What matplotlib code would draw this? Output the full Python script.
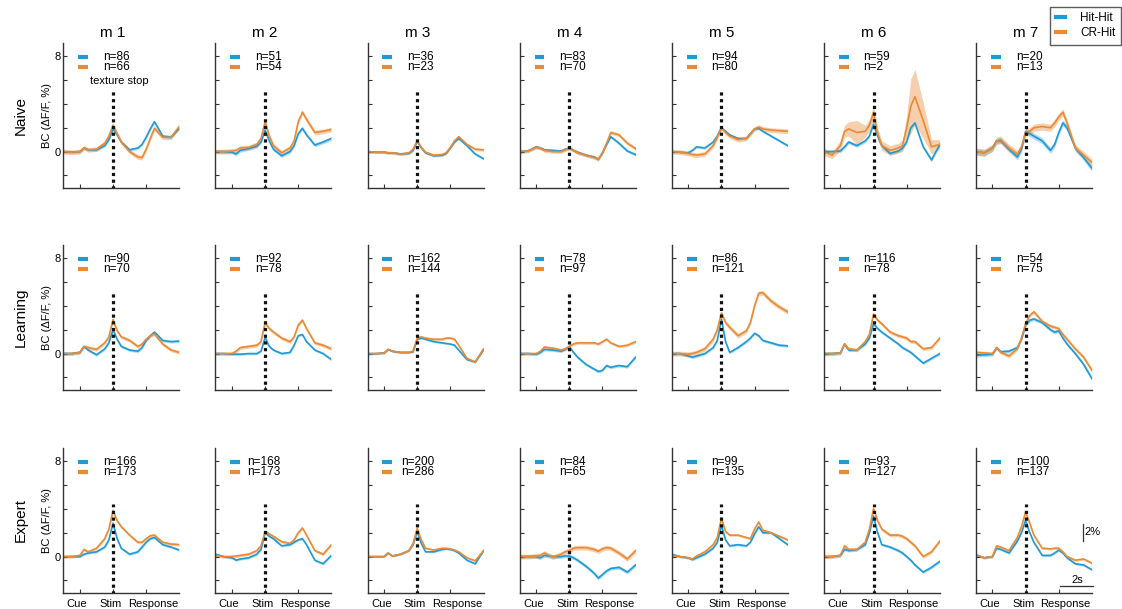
import numpy as np
import matplotlib
matplotlib.use('Agg')
import matplotlib.pyplot as plt
from matplotlib.lines import Line2D

plt.rcParams['font.family'] = ['Liberation Sans', 'DejaVu Sans']

# 时间轴（秒），Cue=1, Stim=3, Response=5
t_sec = [0, 0.5, 1, 1.25, 1.5, 2, 2.5, 2.75, 3, 3.25, 3.5, 4, 4.5, 4.75, 5, 5.25, 5.5, 6, 6.5, 7]
mice = ['m 1', 'm 2', 'm 3', 'm 4', 'm 5', 'm 6', 'm 7']
stages = ['Naive', 'Learning', 'Expert']
tick_pos = [1, 3, 5]
tick_names = ['Cue', 'Stim', 'Response']

# Naive
naive_hit = [
    [0, -0.05, 0.0, 0.3, 0.15, 0.15, 0.5, 1.0, 1.9, 1.4, 0.8, 0.15, 0.3, 0.6, 1.2, 1.9, 2.5, 1.3, 1.2, 1.95],
    [0, 0, -0.05, -0.2, 0.1, 0.25, 0.45, 0.8, 1.8, 0.9, 0.2, -0.35, 0.0, 0.5, 1.5, 1.95, 1.4, 0.55, 0.8, 1.1],
    [0, -0.05, -0.05, -0.1, -0.1, -0.2, -0.15, 0.1, 0.85, 0.3, -0.1, -0.35, -0.3, -0.15, 0.3, 0.8, 1.1, 0.5, -0.2, -0.6],
    [0, 0.05, 0.4, 0.3, 0.15, 0.1, 0.05, 0.2, 0.3, 0.1, -0.05, -0.3, -0.45, -0.65, -0.1, 0.6, 1.25, 0.7, 0.05, -0.25],
    [0, -0.05, -0.1, 0.1, 0.4, 0.3, 0.8, 1.3, 2.0, 1.7, 1.4, 1.1, 1.1, 1.5, 1.9, 1.95, 1.7, 1.3, 0.9, 0.5],
    [0, 0.0, 0.05, 0.4, 0.8, 0.5, 0.9, 1.3, 2.3, 1.3, 0.5, -0.15, 0.05, 0.3, 0.8, 2.0, 2.4, 0.4, -0.7, 0.6],
    [0, -0.1, 0.3, 0.9, 0.9, 0.2, -0.45, 0.2, 1.7, 1.5, 1.3, 0.9, 0.1, 0.6, 1.6, 2.4, 2.0, 0.3, -0.5, -1.4],
]
naive_cr = [
    [0, -0.05, 0.0, 0.3, 0.15, 0.2, 0.7, 1.3, 2.2, 1.5, 0.8, 0.0, -0.45, -0.5, 0.2, 1.1, 1.95, 1.2, 1.2, 2.1],
    [0, 0, 0.05, 0.1, 0.3, 0.35, 0.6, 1.1, 2.5, 1.3, 0.5, -0.1, 0.3, 0.9, 2.5, 3.3, 2.7, 1.6, 1.7, 1.85],
    [0, -0.05, -0.05, -0.1, -0.1, -0.2, -0.1, 0.2, 0.9, 0.35, -0.05, -0.3, -0.25, -0.1, 0.35, 0.9, 1.25, 0.6, 0.2, 0.15],
    [0, 0.05, 0.35, 0.3, 0.1, 0.0, 0.0, 0.15, 0.3, 0.1, -0.1, -0.3, -0.5, -0.65, -0.1, 0.7, 1.6, 1.4, 0.7, 0.25],
    [0, -0.05, -0.15, -0.25, -0.3, -0.2, 0.5, 1.2, 2.0, 1.6, 1.3, 1.0, 1.1, 1.5, 1.9, 2.05, 1.9, 1.8, 1.75, 1.7],
    [0, -0.3, 0.5, 1.7, 1.9, 1.6, 1.7, 2.2, 3.25, 1.5, 0.5, 0.1, 0.3, 0.5, 2.0, 3.8, 4.6, 2.6, 0.4, 0.6],
    [0, -0.1, 0.3, 0.9, 1.0, 0.3, -0.2, 0.4, 1.6, 1.7, 2.0, 2.1, 2.0, 2.4, 2.9, 3.3, 2.4, 0.3, -0.3, -0.9],
]
naive_hit_sem = [0.12, 0.15, 0.1, 0.12, 0.1, 0.15, 0.25]
naive_cr_sem = [0.2, 0.2, 0.12, 0.15, 0.2,
                [0.3, 0.3, 0.4, 0.5, 0.6, 1.0, 0.5, 0.5, 0.6, 0.5, 0.4, 0.4, 0.4, 0.5, 1.0, 2.3, 2.3, 1.5, 0.6, 0.4],
                0.3]
naive_n_hit = [86, 51, 36, 83, 94, 59, 20]
naive_n_cr = [66, 54, 23, 70, 80, 2, 13]

# Learning
learning_hit = [
    [0, 0, 0.1, 0.6, 0.3, -0.1, 0.4, 0.9, 2.0, 1.2, 0.6, 0.3, 0.2, 0.5, 1.1, 1.5, 1.8, 1.1, 1.0, 1.05],
    [0, 0, -0.05, -0.05, -0.05, 0.0, 0.0, 0.2, 1.35, 0.6, 0.3, 0.0, 0.1, 0.7, 1.5, 1.6, 1.0, 0.3, 0.0, -0.5],
    [0, 0, 0.05, 0.35, 0.2, 0.1, 0.1, 0.15, 1.2, 1.3, 1.2, 1.0, 0.9, 0.85, 0.8, 0.7, 0.3, -0.5, -0.7, 0.3],
    [0, 0, -0.05, 0.1, 0.35, 0.3, 0.2, 0.35, 0.6, 0.1, -0.3, -0.9, -1.3, -1.5, -1.4, -1.0, -1.15, -1.0, -1.1, -0.3],
    [0, 0, -0.2, -0.3, -0.2, 0.0, 0.5, 1.1, 2.9, 1.0, 0.1, 0.5, 1.0, 1.3, 1.7, 1.5, 1.1, 0.9, 0.7, 0.65],
    [0, 0, 0.05, 0.8, 0.3, 0.3, 0.8, 1.3, 2.5, 2.1, 1.8, 1.3, 0.8, 0.5, 0.3, 0.1, -0.2, -0.8, -0.4, 0.0],
    [-0.15, -0.1, -0.05, 0.5, 0.15, 0.2, 0.5, 1.2, 2.4, 2.8, 2.9, 2.6, 2.0, 1.8, 1.9, 1.3, 0.8, 0.0, -0.9, -2.1],
]
learning_cr = [
    [0, 0, 0.1, 0.6, 0.5, 0.35, 0.9, 1.4, 2.85, 1.9, 1.4, 1.1, 0.6, 0.8, 1.2, 1.5, 1.65, 0.8, 0.3, 0.1],
    [0, 0, 0.0, 0.2, 0.5, 0.6, 0.7, 1.0, 2.6, 2.1, 1.8, 1.3, 1.0, 1.4, 2.4, 2.8, 2.1, 0.9, 0.7, 0.4],
    [0, 0, 0.05, 0.35, 0.2, 0.1, 0.1, 0.2, 1.3, 1.4, 1.3, 1.2, 1.2, 1.3, 1.3, 1.2, 0.7, -0.4, -0.7, 0.4],
    [0, 0, 0.0, 0.2, 0.55, 0.45, 0.3, 0.4, 0.6, 0.8, 0.9, 0.9, 0.9, 0.8, 1.0, 1.2, 0.9, 0.6, 0.7, 1.0],
    [0, 0, -0.05, 0.0, 0.1, 0.4, 1.2, 2.0, 3.4, 2.6, 2.2, 1.5, 1.9, 2.6, 4.0, 5.05, 5.1, 4.4, 3.9, 3.5],
    [0, 0, 0.05, 0.8, 0.4, 0.3, 1.0, 1.6, 3.3, 2.8, 2.5, 1.8, 1.5, 1.4, 1.3, 1.0, 1.0, 0.4, 0.5, 1.3],
    [0.1, 0.05, 0.0, 0.5, 0.1, -0.2, 0.4, 1.3, 2.5, 3.2, 3.5, 2.7, 2.3, 2.2, 2.1, 1.6, 1.2, 0.4, -0.3, -1.4],
]
learning_hit_sem = [0.12, 0.1, 0.08, 0.12, 0.12, 0.12, 0.15]
learning_cr_sem = [0.15, 0.15, 0.1, 0.12, 0.2, 0.15, 0.15]
learning_n_hit = [90, 92, 162, 78, 86, 116, 54]
learning_n_cr = [70, 78, 144, 97, 121, 78, 75]

# Expert
expert_hit = [
    [0, 0, 0.0, 0.2, 0.3, 0.4, 0.8, 1.4, 2.8, 1.5, 0.7, 0.2, 0.4, 0.8, 1.2, 1.5, 1.6, 1.0, 0.8, 0.55],
    [0.2, 0.0, -0.1, -0.3, -0.2, -0.1, 0.2, 0.6, 2.0, 1.7, 1.5, 0.9, 1.0, 1.2, 1.4, 1.5, 1.0, -0.3, -0.6, 0.1],
    [0, 0, 0.0, 0.3, 0.05, 0.2, 0.5, 1.0, 2.1, 1.1, 0.4, 0.4, 0.6, 0.65, 0.6, 0.5, 0.3, -0.3, -0.6, 0.5],
    [0, 0, 0.0, -0.1, 0.1, 0.0, 0.0, 0.05, 0.05, -0.1, -0.3, -0.8, -1.4, -1.8, -1.5, -1.2, -1.0, -0.9, -1.3, -0.7],
    [0.2, 0.0, -0.1, -0.25, -0.1, 0.2, 0.7, 1.2, 2.6, 1.4, 0.9, 1.0, 0.9, 1.2, 1.9, 2.5, 2.0, 2.0, 1.5, 1.0],
    [0, 0, 0.1, 0.6, 0.5, 0.6, 1.0, 2.0, 3.4, 2.0, 1.0, 0.8, 0.5, 0.3, 0.0, -0.3, -0.7, -1.3, -0.9, -0.4],
    [0.15, -0.1, 0.0, 0.7, 0.6, 0.3, 1.3, 2.0, 3.05, 2.0, 1.2, 0.1, 0.1, 0.3, 0.55, 0.3, -0.1, -0.6, -0.7, -1.1],
]
expert_cr = [
    [0, 0, 0.1, 0.6, 0.4, 0.7, 1.5, 2.3, 3.85, 3.0, 2.5, 1.8, 1.2, 1.2, 1.5, 1.75, 1.8, 1.2, 1.05, 1.0],
    [0.1, 0.0, 0.0, 0.05, 0.1, 0.2, 0.5, 0.9, 2.1, 1.9, 1.7, 1.25, 1.1, 1.4, 2.0, 2.4, 1.8, 0.5, 0.2, 1.0],
    [0, 0, 0.0, 0.3, 0.05, 0.2, 0.5, 1.1, 2.35, 1.4, 0.7, 0.55, 0.7, 0.7, 0.65, 0.55, 0.4, -0.1, -0.35, 0.5],
    [0, 0, 0.05, 0.1, 0.3, -0.05, 0.2, 0.4, 0.5, 0.7, 0.75, 0.75, 0.6, 0.45, 0.65, 0.75, 0.7, 0.3, -0.2, 0.5],
    [0.1, 0.0, -0.1, -0.2, 0.05, 0.4, 1.0, 1.6, 3.2, 2.1, 1.8, 1.8, 1.6, 1.5, 2.3, 2.9, 2.2, 2.0, 1.7, 1.4],
    [0, 0, 0.1, 0.9, 0.6, 0.6, 1.2, 2.3, 4.0, 3.0, 2.3, 1.8, 1.8, 1.7, 1.5, 1.2, 0.9, 0.0, 0.4, 1.3],
    [0.15, -0.1, 0.0, 0.9, 0.8, 0.5, 1.6, 2.5, 3.75, 2.8, 1.8, 0.7, 0.65, 0.7, 0.7, 0.4, 0.0, -0.3, -0.2, -0.55],
]
expert_hit_sem = [0.1, 0.1, 0.08, 0.15, 0.1, 0.12, 0.1]
expert_cr_sem = [0.12, 0.12, 0.08, 0.2, 0.1, 0.15, 0.1]
expert_n_hit = [166, 168, 200, 84, 99, 93, 100]
expert_n_cr = [173, 173, 286, 65, 135, 127, 137]

hit_color = '#1f9ad5'
cr_color = '#ea8a35'
spine_color = '#333333'

W, H = 1122, 609
col_left = [63.3 + 152.1 * i for i in range(7)]
row_top = [43, 245, 448]
ax_w, ax_h = 116, 145
vline_top = [5.1, 5.1, 4.4]
# x轴文字位置（原图中文字并非正好居中于刻度）
xlabel_pos = [0.83, 2.87, 5.4]

fig = plt.figure(figsize=(W / 100, H / 100), dpi=100)

rows = [
    (naive_hit, naive_cr, naive_hit_sem, naive_cr_sem, naive_n_hit, naive_n_cr),
    (learning_hit, learning_cr, learning_hit_sem, learning_cr_sem, learning_n_hit, learning_n_cr),
    (expert_hit, expert_cr, expert_hit_sem, expert_cr_sem, expert_n_hit, expert_n_cr),
]

t = np.array(t_sec)
for r in range(3):
    hit, cr, hs, cs, nh, nc = rows[r]
    for c in range(7):
        ax = fig.add_axes([col_left[c] / W, 1 - (row_top[r] + ax_h) / H, ax_w / W, ax_h / H])
        yh = np.array(hit[c])
        yc = np.array(cr[c])
        eh = np.asarray(hs[c]) * np.ones(len(t))
        ec = np.asarray(cs[c]) * np.ones(len(t))
        ax.fill_between(t, yh - eh, yh + eh, color=hit_color, alpha=0.35, lw=0)
        ax.fill_between(t, yc - ec, yc + ec, color=cr_color, alpha=0.4, lw=0)
        ax.plot(t, yh, color=hit_color, lw=1.2)
        ax.plot(t, yc, color=cr_color, lw=1.2)
        # 刺激时刻虚线
        ax.plot([3, 3], [-3.1, vline_top[r]], color='#111111', lw=2.3,
                linestyle=(0, (1, 1.1)), zorder=5)

        ax.set_xlim(0, 7)
        ax.set_ylim(-3.05, 9.1)
        for s in ['top', 'right']:
            ax.spines[s].set_visible(False)
        for s in ['left', 'bottom']:
            ax.spines[s].set_color(spine_color)
            ax.spines[s].set_linewidth(1.0)
        ax.tick_params(direction='in', length=3, width=0.8, color=spine_color,
                       labelsize=8, pad=2)
        ax.set_yticks([-2, 0, 2, 4, 6, 8])
        if c == 0:
            ax.set_yticklabels(['', '0', '', '', '', '8'])
        else:
            ax.set_yticklabels([])
        ax.set_xticks(tick_pos)
        ax.set_xticklabels([])
        if r == 2:
            for xp, name in zip(xlabel_pos, tick_names):
                ax.text(xp, -3.55, name, fontsize=8, ha='center', va='top')

        # n 标注
        tx = 2.4
        if r == 2 and c == 1:
            tx = 1.9
        if r == 2 and c == 2:
            tx = 2.05
        ax.plot([0.9, 1.5], [7.95, 7.95], color=hit_color, lw=3, solid_capstyle='butt')
        ax.plot([0.9, 1.5], [7.05, 7.05], color=cr_color, lw=3, solid_capstyle='butt')
        ax.text(tx, 7.95, 'n=%d' % nh[c], fontsize=8.5, va='center', ha='left')
        ax.text(tx, 7.05, 'n=%d' % nc[c], fontsize=8.5, va='center', ha='left')

        if r == 0:
            fig.text((col_left[c] + 3 * ax_w / 7) / W, 1 - 33 / H, mice[c],
                     fontsize=11, ha='center', va='center')
        if r == 0 and c == 0:
            ax.text(3.35, 5.9, 'texture stop', fontsize=8, ha='center', va='center')
        if c == 0:
            yc_fig = 1 - (row_top[r] + ax_h / 2) / H
            fig.text(47 / W, yc_fig, 'BC (ΔF/F, %)', rotation=90, fontsize=8,
                     ha='center', va='center')
            fig.text(21 / W, yc_fig, stages[r], rotation=90, fontsize=11,
                     ha='center', va='center')
        if r == 2 and c == 6:
            # 比例尺
            ax.plot([6.45, 6.45], [1.3, 2.75], color=spine_color, lw=0.9, clip_on=False)
            ax.text(6.55, 2.05, '2%', fontsize=8, va='center', ha='left')
            ax.plot([5.1, 7.05], [-2.5, -2.5], color=spine_color, lw=0.9, clip_on=False)
            ax.text(6.1, -2.4, '2s', fontsize=8, va='bottom', ha='center')

handles = [Line2D([], [], color=hit_color, lw=3), Line2D([], [], color=cr_color, lw=3)]
fig.legend(handles, ['Hit-Hit', 'CR-Hit'], loc='upper right',
           bbox_to_anchor=(1121 / W, 1 - 7 / H), frameon=True, fancybox=False,
           edgecolor=spine_color, fontsize=8.5, handlelength=0.8, handletextpad=1.3,
           borderpad=0.45, labelspacing=0.25, borderaxespad=0)

fig.savefig('out.png', dpi=100)
